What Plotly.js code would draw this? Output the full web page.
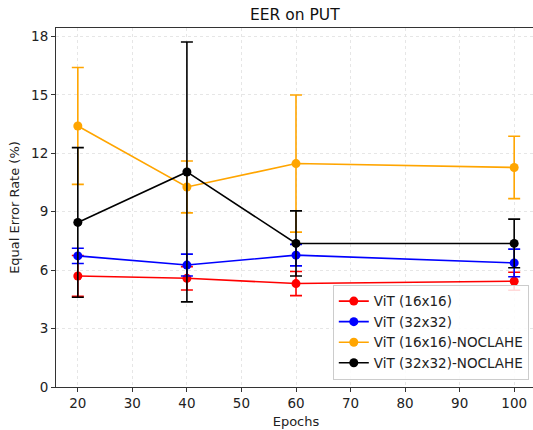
<!DOCTYPE html>
<html><head><meta charset="utf-8">
<script src="https://cdn.plot.ly/plotly-3.0.1.min.js"></script>
<style>html,body{margin:0;padding:0;overflow:hidden;background:#fff;}</style>
</head><body>
<div id="chart" style="width:536px;height:430px;"></div>
<script>
const epochs = [20, 40, 60, 100];
const names = ["ViT (16x16)", "ViT (32x32)", "ViT (16x16)-NOCLAHE", "ViT (32x32)-NOCLAHE"];
const colors = ["#ff0000", "#0000ff", "#ffa500", "#000000"];
const vit16 = [5.70, 5.58, 5.31, 5.43];
const vit16Err = [1.05, 0.60, 0.62, 0.46];
const vit32 = [6.73, 6.26, 6.77, 6.37];
const vit32Err = [0.39, 0.56, 0.55, 0.71];
const vit16NC = [13.40, 10.27, 11.47, 11.27];
const vit16NCErr = [3.00, 1.33, 3.52, 1.60];
const vit32NC = [8.45, 11.04, 7.37, 7.37];
const vit32NCErr = [3.84, 6.67, 1.67, 1.25];
const yTicks = [0, 3, 6, 9, 12, 15, 18];
const xTicks = [20, 30, 40, 50, 60, 70, 80, 90, 100];

const series = [vit16, vit32, vit16NC, vit32NC];
const errs = [vit16Err, vit32Err, vit16NCErr, vit32NCErr];
const font = "DejaVu Sans, sans-serif";

const traces = series.map((s, i) => ({
  x: epochs, y: s, name: names[i], type: "scatter", mode: "lines+markers",
  line: {color: colors[i], width: 1.6},
  marker: {color: colors[i], size: 9},
  error_y: {type: "data", array: errs[i], visible: true, color: colors[i], thickness: 1.6, width: 6}
}));

const layout = {
  width: 536, height: 430,
  margin: {l: 56, r: 0, t: 28, b: 43},
  paper_bgcolor: "#fff", plot_bgcolor: "#fff",
  font: {family: font, size: 13.5, color: "#222"},
  title: {text: "EER on PUT", font: {family: font, size: 15.5, color: "#111"}, x: 0.55, xanchor: "center", y: 0.965, yanchor: "middle"},
  xaxis: {
    range: [16, 104], tickvals: xTicks, ticktext: xTicks.map(String),
    showgrid: true, gridcolor: "#e6e6e6", griddash: "dot", gridwidth: 1,
    zeroline: false, showline: true, linecolor: "#333", linewidth: 1, mirror: true,
    ticks: "outside", ticklen: 4, tickcolor: "#333",
    title: {text: "Epochs", font: {size: 13}, standoff: 6}
  },
  yaxis: {
    range: [0, 18.43], tickvals: yTicks, ticktext: yTicks.map(String),
    showgrid: true, gridcolor: "#e6e6e6", griddash: "dot", gridwidth: 1,
    zeroline: false, showline: true, linecolor: "#333", linewidth: 1, mirror: true,
    ticks: "outside", ticklen: 4, tickcolor: "#333",
    title: {text: "Equal Error Rate (%)", font: {size: 13}, standoff: 8}
  },
  legend: {
    x: 0.985, xanchor: "right", y: 0.02, yanchor: "bottom",
    bgcolor: "rgba(255,255,255,0.85)", bordercolor: "#cccccc", borderwidth: 1,
    font: {size: 13.5, color: "#222"}, tracegroupgap: 0
  },
  showlegend: true
};

Plotly.newPlot("chart", traces, layout, {displayModeBar: false, staticPlot: true});
</script>
</body></html>
